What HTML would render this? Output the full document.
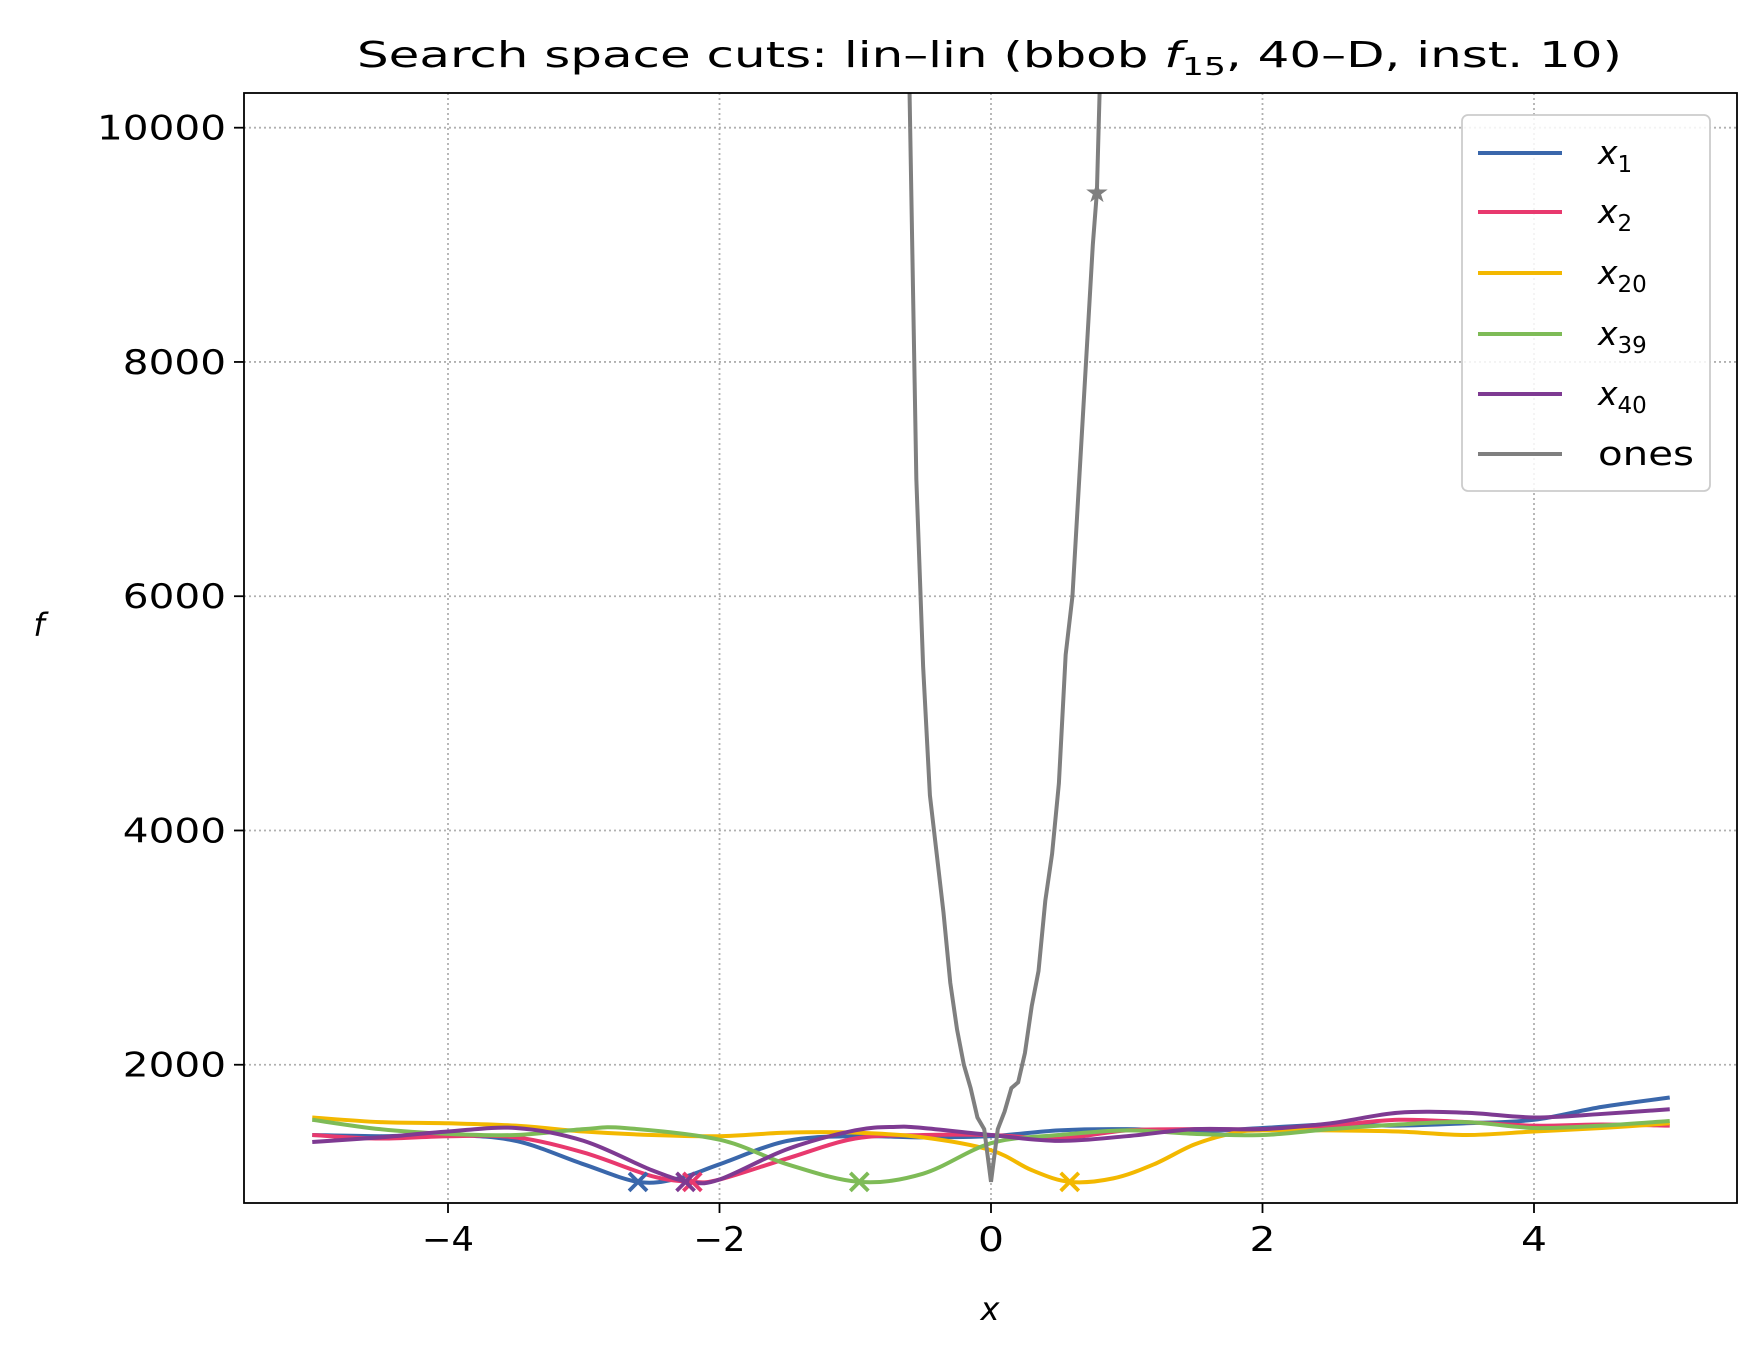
<!DOCTYPE html>
<html><head><meta charset="utf-8"><style>
body{margin:0;background:#fff}
svg{display:block;font-family:"DejaVu Sans","Liberation Sans",sans-serif}
</style></head><body>
<svg id="chart" width="1762" height="1359" xmlns="http://www.w3.org/2000/svg">
<defs><clipPath id="clip"><rect x="244" y="93" width="1493" height="1110"/></clipPath></defs>
<rect width="1762" height="1359" fill="#fff"/>
<text x="357" y="67" font-size="36" textLength="1265" lengthAdjust="spacingAndGlyphs">Search space cuts: lin–lin (bbob <tspan font-style="italic">f</tspan><tspan font-size="25" dy="8">15</tspan><tspan dy="-8">, 40–D, inst. 10)</tspan></text>
<g id="grid"></g><g id="axes"></g>
<g id="plot" clip-path="url(#clip)"></g>
<rect x="244" y="93" width="1493" height="1110" fill="none" stroke="#000" stroke-width="1.8"/>
<text x="990" y="1320" text-anchor="middle" font-size="32" font-style="italic">x</text>
<text x="39" y="636" text-anchor="middle" font-size="32" font-style="italic">f</text>
<g id="legend"></g>
</svg>
<script>
const xTicks=[-4,-2,0,2,4];
const yTicks=[2000,4000,6000,8000,10000];
const seriesNames=["x1","x2","x20","x39","x40","ones"];
const x1X=[-5,-4.5,-4,-3.5,-3,-2.6,-2.3,-2,-1.5,-1,-0.5,0,0.5,1,1.5,2,2.5,3,3.5,4,4.5,5];
const x1Y=[1400,1390,1400,1350,1150,1000,1030,1150,1350,1390,1380,1390,1440,1450,1430,1460,1490,1480,1500,1530,1640,1720];
const x2X=[-5,-4.5,-4,-3.5,-3,-2.5,-2.2,-2,-1.5,-1,-0.5,0,0.5,1,1.5,2,2.5,3,3.5,4,4.5,5];
const x2Y=[1400,1370,1390,1380,1250,1050,1000,1020,1200,1370,1400,1400,1370,1440,1450,1450,1480,1530,1510,1480,1490,1480];
const x20X=[-5,-4.5,-4,-3.5,-3,-2.5,-2,-1.5,-1,-0.5,0,0.3,0.58,0.9,1.2,1.5,1.8,2,2.5,3,3.5,4,4.5,5];
const x20Y=[1550,1510,1500,1480,1430,1400,1390,1420,1420,1380,1270,1100,1000,1030,1150,1320,1420,1440,1440,1430,1400,1430,1460,1500];
const x39X=[-5,-4.5,-4,-3.5,-3,-2.7,-2,-1.5,-0.97,-0.5,0,0.5,1,1.5,2,2.5,3,3.5,4,4.5,5];
const x39Y=[1530,1450,1410,1400,1450,1460,1360,1150,1000,1070,1330,1400,1440,1410,1400,1450,1490,1510,1460,1480,1520];
const x40X=[-5,-4.5,-4,-3.5,-3,-2.5,-2.22,-2,-1.5,-1,-0.7,-0.5,0,0.5,1,1.5,2,2.5,3,3.5,4,4.5,5];
const x40Y=[1340,1380,1430,1460,1350,1100,1000,1020,1280,1440,1470,1460,1400,1350,1390,1450,1450,1500,1590,1590,1550,1580,1620];
const onesX=[-0.62,-0.6,-0.55,-0.5,-0.45,-0.4,-0.35,-0.3,-0.25,-0.2,-0.15,-0.1,-0.05,0,0.05,0.1,0.15,0.2,0.25,0.3,0.35,0.4,0.45,0.5,0.55,0.6,0.65,0.7,0.75,0.78,0.8];
const onesY=[11000,10300,7000,5400,4300,3800,3300,2700,2300,2000,1800,1550,1450,1000,1450,1600,1800,1850,2100,2500,2800,3400,3800,4400,5500,6000,7000,8000,9000,9450,10300];
const markerX=[-2.6,-2.2,0.58,-0.97,-2.25];
const markerY=[1000,1000,1000,1000,1000];
const colors=["#3a67ab","#e8396e","#f3b800","#7ebb57","#7e3a92","#7f7f7f"];
const NS="http://www.w3.org/2000/svg";
const X=v=>991+(v)*135.75;
const Y=v=>1299-v*0.11713;
function mk(t,a,p){const e=document.createElementNS(NS,t);for(const k in a)e.setAttribute(k,a[k]);p.appendChild(e);return e;}
const grid=document.getElementById('grid'),axes=document.getElementById('axes'),plot=document.getElementById('plot'),leg=document.getElementById('legend');
xTicks.forEach(t=>{
 const g=mk('line',{x1:X(t),x2:X(t),y1:93,y2:1203,stroke:'#b0b0b0','stroke-width':1.8,'stroke-dasharray':'2,3'},grid);
 
 
 mk('line',{x1:X(t),x2:X(t),y1:1203,y2:1213,stroke:'#000','stroke-width':1.8},axes);
 const s=t<0?'−'+(-t):String(t);
 const l=mk('text',{x:X(t)-(s.length*26)/2,y:1251,'font-size':34,textLength:s.length*26,lengthAdjust:'spacingAndGlyphs'},axes);
 l.textContent=s;
 
 
});
yTicks.forEach(t=>{
 const g=mk('line',{x1:244,x2:1737,y1:Y(t),y2:Y(t),stroke:'#b0b0b0','stroke-width':1.8,'stroke-dasharray':'2,3'},grid);
 
 
 mk('line',{x1:234,x2:244,y1:Y(t),y2:Y(t),stroke:'#000','stroke-width':1.8},axes);
 const s=String(t);
 const l=mk('text',{x:226-s.length*25.8,y:Y(t)+12,'font-size':34,textLength:s.length*25.8,lengthAdjust:'spacingAndGlyphs'},axes);
 l.textContent=s;
 
 
});
const data=[[x1X,x1Y],[x2X,x2Y],[x20X,x20Y],[x39X,x39Y],[x40X,x40Y]];
function smooth(xs,ys){
 let d='M'+X(xs[0])+','+Y(ys[0]);
 for(let i=0;i<xs.length-1;i++){
  const p0=[X(xs[Math.max(i-1,0)]),Y(ys[Math.max(i-1,0)])],p1=[X(xs[i]),Y(ys[i])],p2=[X(xs[i+1]),Y(ys[i+1])],p3=[X(xs[Math.min(i+2,xs.length-1)]),Y(ys[Math.min(i+2,xs.length-1)])];
  const c1=[p1[0]+(p2[0]-p0[0])/6,p1[1]+(p2[1]-p0[1])/6],c2=[p2[0]-(p3[0]-p1[0])/6,p2[1]-(p3[1]-p1[1])/6];
  d+=' C'+c1+' '+c2+' '+p2;
 }
 return d;
}
data.forEach((s,i)=>{
 const p=mk('path',{d:smooth(s[0],s[1]),fill:'none',stroke:colors[i],'stroke-width':4},plot);
 
 
});
const op=mk('path',{d:'M'+onesX.map((x,i)=>X(x)+','+Y(onesY[i])).join(' L'),fill:'none',stroke:colors[5],'stroke-width':4},plot);


markerX.forEach((mx,i)=>{
 const cx=X(mx),cy=Y(markerY[i]),r=9;
 const m=mk('path',{d:`M${cx-r},${cy-r}L${cx+r},${cy+r}M${cx-r},${cy+r}L${cx+r},${cy-r}`,stroke:colors[i],'stroke-width':3.8},plot);
 
 
});
const st=mk('text',{x:X(0.78),y:Y(9450)+10,'text-anchor':'middle','font-size':28,fill:colors[5]},plot);
st.textContent='★';


const lb=mk('rect',{x:1462,y:115,width:248,height:376,rx:6,fill:'#fff','fill-opacity':0.85,stroke:'#ccc','stroke-width':1.8},leg);


const labs=[['x','1'],['x','2'],['x','20'],['x','39'],['x','40'],['ones','']];
const ly=[153,212,273,334,394,454];
labs.forEach((l,i)=>{
 const g=mk('g',{},leg);
 
 
 mk('line',{x1:1478,x2:1562,y1:ly[i],y2:ly[i],stroke:colors[i],'stroke-width':4},g);
 const t=mk('text',{x:1598,y:ly[i]+11,'font-size':33},g);
 if(l[1]){t.innerHTML='<tspan font-style="italic">x</tspan><tspan font-size="23" dy="8">'+l[1]+'</tspan>';}
 else {t.textContent=l[0];t.setAttribute('textLength',96);t.setAttribute('lengthAdjust','spacingAndGlyphs');}
});
</script>
</body></html>
